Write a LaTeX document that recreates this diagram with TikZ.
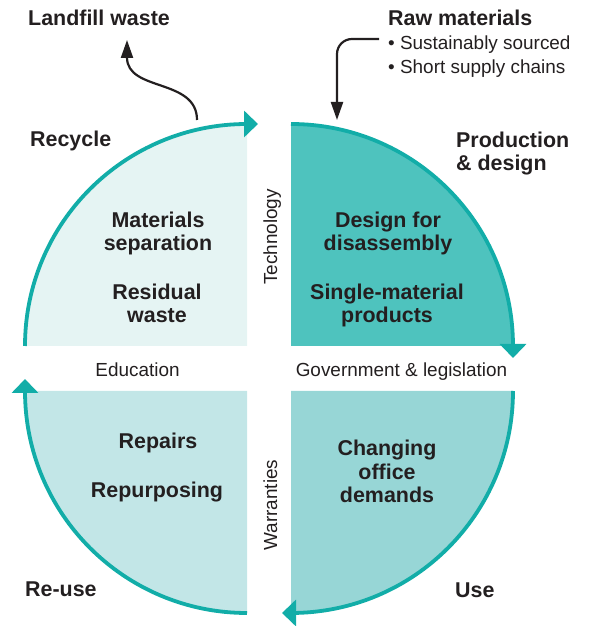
\documentclass[tikz,border=0pt]{standalone}
\usepackage{fontspec}
\setmainfont{Liberation Sans}
\usetikzlibrary{arrows.meta}
\definecolor{ringteal}{RGB}{18,173,168}
\definecolor{inkblack}{RGB}{35,31,32}
\definecolor{fillrecycle}{RGB}{229,244,243}
\definecolor{fillprod}{RGB}{78,195,190}
\definecolor{filluse}{RGB}{151,214,214}
\definecolor{fillreuse}{RGB}{194,230,231}
\begin{document}
\begin{tikzpicture}[x=1bp,y=1bp,
  ringarc/.style={draw=ringteal, line width=3.8bp, -{Triangle[length=14bp,width=26bp]}},
  blackarrow/.style={draw=inkblack, line width=2.2bp, -{Triangle[length=18bp,width=12bp]}},
  hdtxt/.style={font=\fontsize{21.5}{24}\selectfont\bfseries, text=inkblack, inner sep=0pt},
  bodytxt/.style={font=\fontsize{19}{24}\selectfont, text=inkblack, inner sep=0pt}
  ]
\useasboundingbox (0,0) rectangle (591,626);
% quadrant fills
\fill[fillrecycle] (247,280) -- (25,280) arc[start angle=180, end angle=90, radius=222] -- cycle;
\fill[fillprod] (291,280) -- (291,502) arc[start angle=90, end angle=0, radius=222] -- cycle;
\fill[filluse] (291,235) -- (513,235) arc[start angle=0, end angle=-90, radius=222] -- cycle;
\fill[fillreuse] (247,235) -- (247,13) arc[start angle=270, end angle=180, radius=222] -- cycle;
% ring arcs with arrows
\draw[ringarc] (25,280) arc[start angle=180, end angle=90, radius=222] -- (258,502);
\draw[ringarc] (291,502) arc[start angle=90, end angle=0, radius=222] -- (513,268);
\draw[ringarc] (513,235) arc[start angle=0, end angle=-90, radius=222] -- (282,13);
\draw[ringarc] (247,13) arc[start angle=270, end angle=180, radius=222] -- (25,247);
% outer labels
\node[hdtxt, anchor=base west] (landfill) at (28,600) {Landfill waste};
\node[hdtxt, anchor=base west] (raw) at (388,600) {Raw materials};
\node[bodytxt, anchor=base west] (bulleta) at (388,576) {• Sustainably sourced};
\node[bodytxt, anchor=base west] (bulletb) at (388,552) {• Short supply chains};
\node[hdtxt, anchor=base west] (recycle) at (30,479) {Recycle};
\node[hdtxt, anchor=base west] (proda) at (456,478) {Production};
\node[hdtxt, anchor=base west] (prodb) at (456,455) {\& design};
\node[hdtxt, anchor=base west] (reuse) at (25,29) {Re-use};
\node[hdtxt, anchor=base west] (use) at (455,28) {Use};
% inner labels
\node[hdtxt, anchor=base] (mata) at (158,398) {Materials};
\node[hdtxt, anchor=base] (matb) at (158,375) {separation};
\node[hdtxt, anchor=base] (resa) at (157,326) {Residual};
\node[hdtxt, anchor=base] (resb) at (157,303) {waste};
\node[hdtxt, anchor=base] (desa) at (388,398) {Design for};
\node[hdtxt, anchor=base] (desb) at (388,375) {disassembly};
\node[hdtxt, anchor=base] (sina) at (387,326) {Single-material};
\node[hdtxt, anchor=base] (sinb) at (387,303) {products};
\node[hdtxt, anchor=base] (repairs) at (158,177) {Repairs};
\node[hdtxt, anchor=base] (repurp) at (157,128) {Repurposing};
\node[hdtxt, anchor=base] (chga) at (387,170) {Changing};
\node[hdtxt, anchor=base] (chgb) at (387,146) {office};
\node[hdtxt, anchor=base] (chgc) at (387,123) {demands};
% gap labels
\node[bodytxt, anchor=base] (edu) at (137.5,249) {Education};
\node[bodytxt, anchor=base] (gov) at (401.5,249) {Government \& legislation};
\node[bodytxt, anchor=base, rotate=90] (tech) at (277,389) {Technology};
\node[bodytxt, anchor=base, rotate=90] (warr) at (277,121) {Warranties};
% black arrows
\coordinate (landstart) at (197,506);
\coordinate (landtip) at (127,586);
\coordinate (rawstart) at (379,587);
\coordinate (rawtip) at (337,506);
\draw[blackarrow] (landstart) .. controls (197,548) and (127,534) .. (landtip);
\draw[blackarrow, rounded corners=15bp] (rawstart) -| (rawtip);
\end{tikzpicture}
\end{document}
